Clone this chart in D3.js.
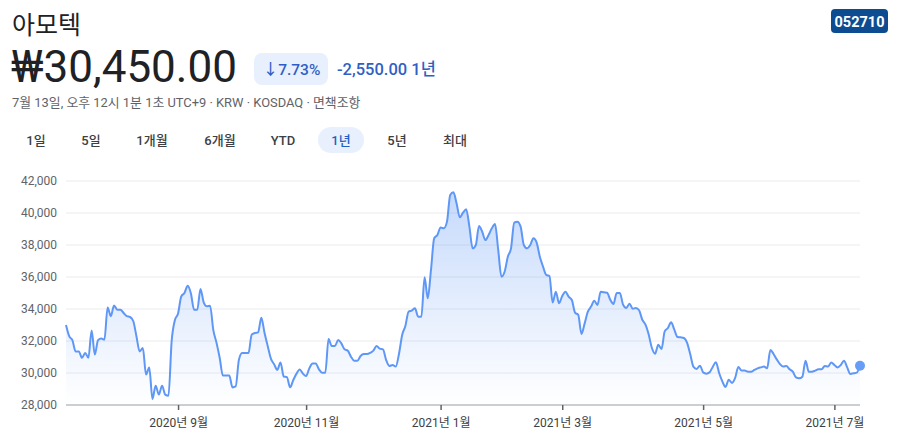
<!DOCTYPE html>
<html><head><meta charset="utf-8">
<script src="https://cdn.jsdelivr.net/npm/d3@7"></script>
<style>
html,body{margin:0;padding:0;background:#fff;}
svg{display:block;font-family:Roboto,"Noto Sans CJK KR",sans-serif;}
</style></head>
<body>
<svg id="chart" width="897" height="444"></svg>
<script>
// ---- data ----
const companyName = "아모텍";
const tickerCode = "052710";
const priceText = "₩30,450.00";
const changePct = "↓7.73%";
const changeAbs = "-2,550.00 1년";
const infoLine = "7월 13일, 오후 12시 1분 1초 UTC+9 · KRW · KOSDAQ · 면책조항";
const rangeTabs = ["1일", "5일", "1개월", "6개월", "YTD", "1년", "5년", "최대"];
const selectedTab = "1년";

const startDate = "2020-07-13";
const endDate = "2021-07-13";
const marketHolidays = ["2020-08-17","2020-09-30","2020-10-01","2020-10-02","2020-10-09",
  "2020-12-25","2020-12-31","2021-01-01","2021-02-11","2021-02-12","2021-03-01",
  "2021-05-05","2021-05-19"];

// closing prices, one per trading day
const prices = [
 33000,32300,32050,31350,31350,30950,31250,30950,32650,31150,
 32050,32150,32080,34100,33550,34220,33960,33960,33750,33550,
 33500,33250,32300,31350,31560,29900,30350,28380,29210,28650,
 29210,28650,28580,32000,33300,33720,34780,35000,35450,34980,
 33960,33950,35250,34420,34170,34210,32700,31900,30950,29840,
 29850,29840,29100,29160,30820,31250,31250,31250,32400,32500,
 32540,33450,32520,31690,30900,30540,30200,30660,29780,29740,
 29110,29560,29960,30220,29960,29810,30290,30600,30600,30230,
 30020,30020,32130,31690,31690,32060,31850,31480,31400,31020,
 30770,30770,31060,31190,31190,31260,31400,31690,31520,31480,
 30810,30440,30500,30400,31190,32380,32940,33830,33900,34040,
 33520,33520,35980,34670,36440,38420,38630,39100,39040,39460,
 41130,41290,40600,39730,40020,40230,39150,37790,38000,39190,
 38830,38310,38630,39040,39310,37690,36020,36330,37270,37790,
 39400,39460,39150,38000,37790,38000,38420,38150,37270,36650,
 36130,36060,34400,35080,34360,34810,35080,34770,34560,33770,
 33630,32440,33100,33830,34150,34520,34250,35080,35040,35020,
 34580,34310,35000,35000,34270,34060,34330,34020,34060,33920,
 33330,33020,32400,31560,31210,31770,31500,32600,32810,33170,
 32710,32250,32230,32190,31880,31150,30380,30250,30460,30040,
 29960,30040,30380,30670,30000,29480,29130,29580,29380,29690,
 30380,30150,30150,30080,30080,30190,30290,30350,30400,30300,
 31440,31190,30850,30560,30400,30440,30230,30080,29730,29670,
 29770,30770,30080,30080,30150,30230,30230,30440,30400,30650,
 30500,30350,30500,30770,30350,29940,29980,30020,30450
];
const yTicks = [28000,30000,32000,34000,36000,38000,40000,42000];
const xTickMonths = ["2020-09","2020-11","2021-01","2021-03","2021-05","2021-07"];

// ---- trading days ----
const fmt = d3.timeFormat("%Y-%m-%d");
const hol = new Set(marketHolidays);
const days = d3.timeDay.range(d3.timeParse("%Y-%m-%d")(startDate), d3.timeDay.offset(d3.timeParse("%Y-%m-%d")(endDate),1))
  .filter(d => d.getDay() !== 0 && d.getDay() !== 6 && !hol.has(fmt(d)));
const data = prices.map((v,i) => ({i, date: days[i], v}));

const svg = d3.select("#chart");

// ---- header ----
svg.append("text").attr("x",12).attr("y",34).attr("font-size",25).attr("fill","#202124").text(companyName);
const tk = svg.append("g");
tk.append("rect").attr("x",831).attr("y",9).attr("width",57).attr("height",24).attr("rx",4).attr("fill","#0d4c91");
tk.append("text").attr("x",859.5).attr("y",26.5).attr("text-anchor","middle").attr("font-size",14.5).attr("font-weight",700).attr("fill","#fff").text(tickerCode);

svg.append("text").attr("x",11).attr("y",82).attr("font-size",44).attr("fill","#202124").text(priceText);
svg.append("rect").attr("x",254).attr("y",53).attr("width",74).attr("height",32).attr("rx",8).attr("fill","#e8f0fe");
svg.append("text").attr("x",291.5).attr("y",75).attr("text-anchor","middle").attr("font-size",15.5).attr("font-weight",500).attr("fill","#2f5fc4").text(changePct);
svg.append("text").attr("x",337).attr("y",75).attr("font-size",16.5).attr("font-weight",500).attr("fill","#2f5fc4").text(changeAbs);
svg.append("text").attr("x",12).attr("y",107).attr("font-size",12.9).attr("fill","#5f6368").text(infoLine);

const tabX = [36, 91, 152, 220, 283, 341, 397, 455];
rangeTabs.forEach((t,k) => {
  if (t === selectedTab) {
    svg.append("rect").attr("x",tabX[k]-23).attr("y",127).attr("width",46).attr("height",26).attr("rx",13).attr("fill","#e8f0fe");
  }
  svg.append("text").attr("x",tabX[k]).attr("y",145).attr("text-anchor","middle").attr("font-size",13)
    .attr("font-weight",500).attr("fill", t===selectedTab ? "#1f5fc4" : "#3c4043").text(t);
});

// ---- chart ----
const x = d3.scaleLinear().domain([0, prices.length-1]).range([66, 860]);
const y = d3.scaleLinear().domain([28000, 42000]).range([405, 181]);

const defs = svg.append("defs");
const grad = defs.append("linearGradient").attr("id","fillGrad").attr("gradientUnits","userSpaceOnUse")
  .attr("x1",0).attr("x2",0).attr("y1",y(42000)).attr("y2",y(28000));
grad.append("stop").attr("offset","0%").attr("stop-color","#4285f4").attr("stop-opacity",0.32);
grad.append("stop").attr("offset","100%").attr("stop-color","#4285f4").attr("stop-opacity",0.0);

// grid
svg.append("g").selectAll("line").data(yTicks.filter(t=>t>28000)).join("line")
  .attr("x1",66).attr("x2",860).attr("y1",d=>y(d)).attr("y2",d=>y(d))
  .attr("stroke","#ebebeb").attr("stroke-width",1);

// y labels
svg.append("g").selectAll("text").data(yTicks).join("text")
  .attr("x",57).attr("y",d=>y(d)).attr("dy","0.35em").attr("text-anchor","end")
  .attr("font-size",12).attr("fill","#5f6368").text(d3.format(",")); 

// area + line
const area = d3.area().x(d=>x(d.i)).y0(y(28000)).y1(d=>y(d.v)).curve(d3.curveMonotoneX);
const line = d3.line().x(d=>x(d.i)).y(d=>y(d.v)).curve(d3.curveMonotoneX);
svg.append("path").datum(data).attr("d",area).attr("fill","url(#fillGrad)");
svg.append("path").datum(data).attr("d",line).attr("fill","none").attr("stroke","#5e97f6").attr("stroke-width",2).attr("stroke-linejoin","round");

// x axis
const tickIdx = xTickMonths.map(m => data.findIndex(d => d3.timeFormat("%Y-%m")(d.date) === m));
const xAxis = d3.axisBottom(x).tickValues(tickIdx).tickSize(5).tickSizeOuter(0)
  .tickFormat(i => { const d = data[i].date; return d.getFullYear()+"년 "+(d.getMonth()+1)+"월"; });
const gx = svg.append("g").attr("transform",`translate(0,${y(28000)})`).call(xAxis);
gx.select(".domain").attr("stroke","#9aa0a6").attr("stroke-width",1.2).attr("d","M66,0H860");
gx.selectAll(".tick line").attr("stroke","#5f6368").attr("stroke-width",1.5);
gx.selectAll(".tick text").attr("font-size",12).attr("fill","#3c4043").attr("y",13)
  .attr("font-family",'Roboto,"Noto Sans CJK KR",sans-serif');

// end dot
const last = data[data.length-1];
svg.append("circle").attr("cx",x(last.i)).attr("cy",y(last.v)).attr("r",5).attr("fill","#669df6");
</script>
</body></html>
